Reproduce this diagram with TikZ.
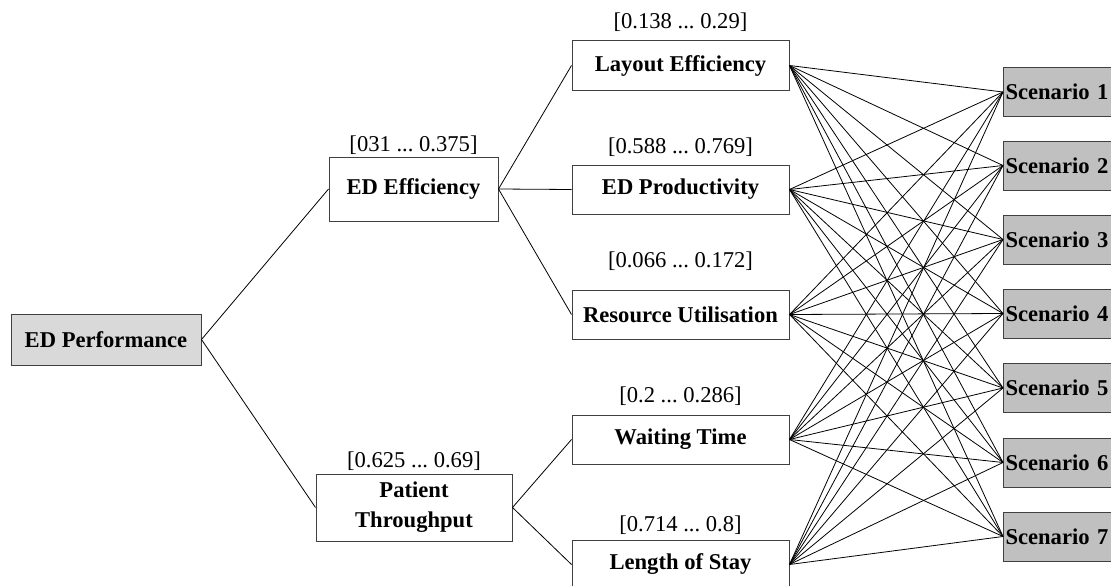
\documentclass[tikz,border=0pt]{standalone}
\usepackage{fontspec}
\setmainfont{Liberation Serif}
\frenchspacing
\usetikzlibrary{positioning}
\tikzstyle{diagram} = [x = 1pt, y = -1pt]
\definecolor{boxLine}{RGB}{64,64,64}
\definecolor{goalFill}{RGB}{217,217,217}
\definecolor{scenarioFill}{RGB}{192,192,192}
\tikzstyle{boxStyle} = [draw=boxLine, line width=1pt, fill=white, inner sep=2pt, font=\fontsize{22.6}{30}\selectfont\bfseries, minimum height=49pt]
\tikzstyle{goalStyle} = [boxStyle, fill=goalFill, minimum width=190pt, minimum height=51pt]
\tikzstyle{criterionStyle} = [boxStyle, minimum width=217pt]
\tikzstyle{scenarioStyle} = [boxStyle, fill=scenarioFill, anchor=west, text width=115pt, align=left]
\tikzstyle{intervalText} = [font=\fontsize{22.6}{28}\selectfont, inner sep=0pt]
\tikzstyle{linkLine} = [color=black, line width=0.8pt]
\newcommand{\criterionBox}[5]{\node [criterionStyle] (#1) at (680.5, #2) {#3}; \node [intervalText] (#1Weight) at (680.5, #4) {#5};}

\begin{document}
\begin{tikzpicture}[diagram]
  \useasboundingbox (0,0) rectangle (1111,586);
  \clip (0,0) rectangle (1111,586);

  \node [goalStyle] (performance) at (106, 339.5) {ED Performance};

  \node [boxStyle, minimum width=169pt, minimum height=64pt] (efficiency) at (413.5, 189) {ED Efficiency};
  \node [intervalText] (efficiencyWeight) at (413.5, 145) {[031 ... 0.375]};
  \node [boxStyle, align=center, minimum width=196pt, minimum height=67pt] (throughput) at (414, 507.5) {Patient\\Throughput};
  \node [intervalText] (throughputWeight) at (414, 461) {[0.625 ... 0.69]};

  \criterionBox{layout}{65.5}{Layout Efficiency}{22}{[0.138 ... 0.29]}
  \criterionBox{productivity}{189.5}{ED Productivity}{147}{[0.588 ... 0.769]}
  \criterionBox{resource}{314.5}{Resource Utilisation}{261}{[0.066 ... 0.172]}
  \criterionBox{waiting}{439.5}{Waiting Time}{396}{[0.2 ... 0.286]}
  \criterionBox{stay}{564.5}{Length of Stay}{525}{[0.714 ... 0.8]}

  \foreach \n/\y in {1/92, 2/165.5, 3/239.5, 4/313.5, 5/388, 6/462.5, 7/536.5} {
    \node [scenarioStyle] (scenario\n) at (1003, \y) {Scenario \n};
  }

  % hierarchy
  \draw [linkLine] (performance.east) -- (efficiency.west);
  \draw [linkLine] (performance.east) -- (throughput.west);
  \foreach \c in {layout, productivity, resource} {
    \draw [linkLine] (efficiency.east) -- (\c.west);
  }
  \foreach \c in {waiting, stay} {
    \draw [linkLine] (throughput.east) -- (\c.west);
  }

  % every criterion to every scenario
  \foreach \c in {layout, productivity, resource, waiting, stay} {
    \foreach \n in {1,...,7} {
      \draw [linkLine] (\c.east) -- (scenario\n.west);
    }
  }
\end{tikzpicture}
\end{document}
